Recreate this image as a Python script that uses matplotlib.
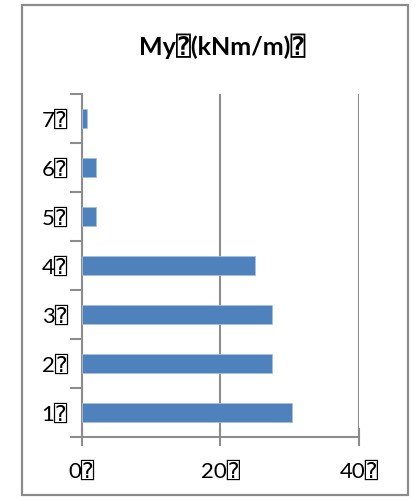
import matplotlib
matplotlib.use("Agg")
import matplotlib.pyplot as plt
from matplotlib.patches import Rectangle

# data
categories = ["1", "2", "3", "4", "5", "6", "7"]
values = [30.4, 27.4, 27.4, 25.0, 2.1, 2.0, 0.8]
xticks = [0, 20, 40]
box = "\u2370"  # missing-glyph box in the original labels
title = "My" + box + "(kNm/m)" + box

fonts = ["Lato", "DejaVu Sans", "DejaVu Sans Mono"]
plt.rcParams["font.family"] = fonts

fig = plt.figure(figsize=(4.17, 5.0), dpi=100)
W, H = 417, 500

# outer chart border
fig.patches.append(Rectangle((22 / W, 5 / H), 386 / W, 490 / H, transform=fig.transFigure,
                             fill=False, edgecolor="#8c8c8c", linewidth=1.6))

ax = fig.add_axes([81.7 / W, 1 - 437 / H, (359 - 81.7) / W, (437 - 94) / H])

bar_color = "#4f81bd"
ypos = range(len(categories))
ax.barh(ypos, values, height=0.4, color=bar_color, edgecolor="#a8c0e0", linewidth=0.6, zorder=3)

ax.set_xlim(0, 40)
ax.set_ylim(-0.5, len(categories) - 0.5)

ax.set_xticks(xticks)
ax.set_xticklabels([f"{v}{box}" for v in xticks], fontsize=16)
ax.set_yticks([i - 0.5 for i in range(len(categories) + 1)], minor=False)
ax.set_yticklabels([])
ax.set_yticks(list(ypos), minor=True)
ax.set_yticklabels([c + box for c in categories], minor=True, fontsize=16)

ax.grid(axis="x", color="#8c8c8c", linewidth=1.5, zorder=0)
ax.tick_params(axis="x", which="major", direction="inout", length=13, width=1.5,
               color="#8c8c8c", pad=11)
ax.tick_params(axis="y", which="major", direction="out", length=9, width=1.5, color="#8c8c8c")
ax.tick_params(axis="y", which="minor", length=0, pad=10)

for s in ["top", "right"]:
    ax.spines[s].set_visible(False)
for s in ["left", "bottom"]:
    ax.spines[s].set_color("#8c8c8c")
    ax.spines[s].set_linewidth(1.5)

fig.text(222 / W, 1 - 46 / H, title, ha="center", va="center", fontsize=18, fontweight="bold")

fig.savefig("out.png", dpi=100)
